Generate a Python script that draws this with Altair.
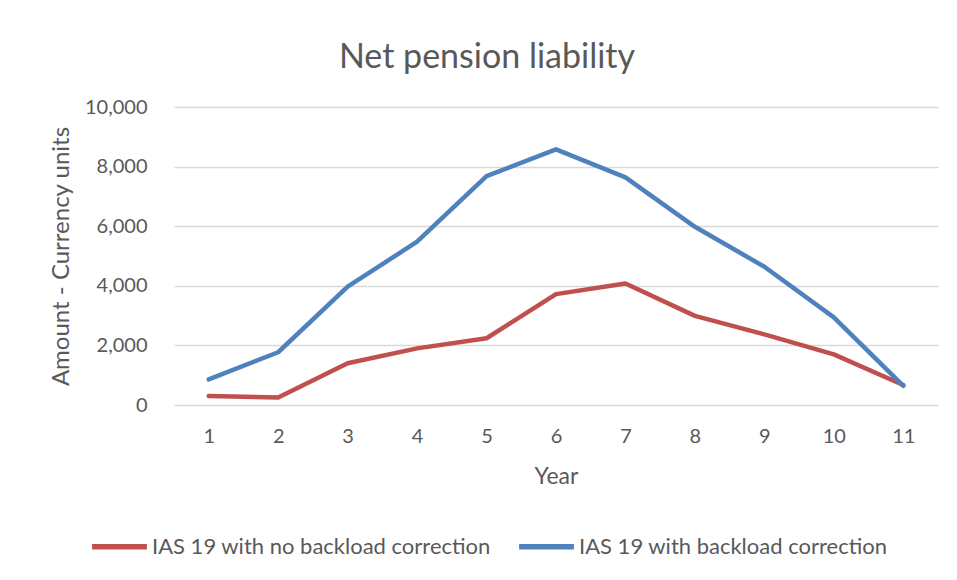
import altair as alt
import pandas as pd

years = [1, 2, 3, 4, 5, 6, 7, 8, 9, 10, 11]
no_backload = [300, 250, 1400, 1900, 2240, 3720, 4080, 2990, 2370, 1700, 670]
with_backload = [860, 1770, 3970, 5480, 7680, 8580, 7640, 5980, 4640, 2940, 640]
series_names = ["IAS 19 with no backload correction", "IAS 19 with backload correction"]
series_colors = ["#C0504D", "#4F81BD"]

rows = []
for name, vals in zip(series_names, [no_backload, with_backload]):
    for yr, v in zip(years, vals):
        rows.append({"Year": yr, "Amount": v, "Series": name})
df = pd.DataFrame(rows)

FONT = "Lato"
GREY = "#595959"

chart = alt.Chart(df).mark_line(strokeWidth=4.5, strokeCap="round", strokeJoin="round").encode(
    x=alt.X("Year:O", sort=years,
            scale=alt.Scale(type="point", padding=0.5),
            axis=alt.Axis(title="Year", labelAngle=0, grid=False, domain=False, ticks=False,
                          tickSize=0, labelPadding=21, labelFontSize=20, labelColor=GREY,
                          labelFont=FONT, titleFont=FONT, titleFontSize=23, titleColor=GREY,
                          titleFontWeight="normal", titleY=78, titleBaseline="alphabetic")),
    y=alt.Y("Amount:Q",
            scale=alt.Scale(domain=[0, 10000], nice=False),
            axis=alt.Axis(title="Amount - Currency units", values=[0, 2000, 4000, 6000, 8000, 10000],
                          format=",d", grid=True, gridColor="#D9D9D9", gridWidth=1.5,
                          domain=False, ticks=False, tickSize=0, labelPadding=27,
                          labelFontSize=20, labelColor=GREY, labelFont=FONT,
                          titleFont=FONT, titleFontSize=24, titleColor=GREY, titleFontWeight="normal",
                          titleAngle=-90, titleX=-106, titleY=149, titleAlign="center",
                          titleBaseline="alphabetic")),
    color=alt.Color("Series:N", sort=series_names,
                    scale=alt.Scale(domain=series_names, range=series_colors),
                    legend=alt.Legend(title=None, orient="none", direction="horizontal",
                                      legendX=-85, legendY=409, symbolType="stroke",
                                      symbolSize=3000, symbolStrokeWidth=5.5,
                                      labelFontSize=22, labelColor=GREY, labelFont=FONT,
                                      labelLimit=0, columnPadding=17, labelOffset=2, padding=0)),
).properties(
    width=764,
    height=298,
    title=alt.Title("Net pension liability", fontSize=34, font=FONT, color=GREY,
                    fontWeight="normal", anchor="middle", dx=-69, dy=34, offset=29,
                    baseline="alphabetic"),
    padding={"left": 166, "top": 99, "right": 10, "bottom": 160},
    autosize=alt.AutoSizeParams(type="none"),
    background="white",
).configure_view(stroke=None, strokeWidth=0)

chart.save("out.html", embed_options={"renderer": "svg", "actions": False})
